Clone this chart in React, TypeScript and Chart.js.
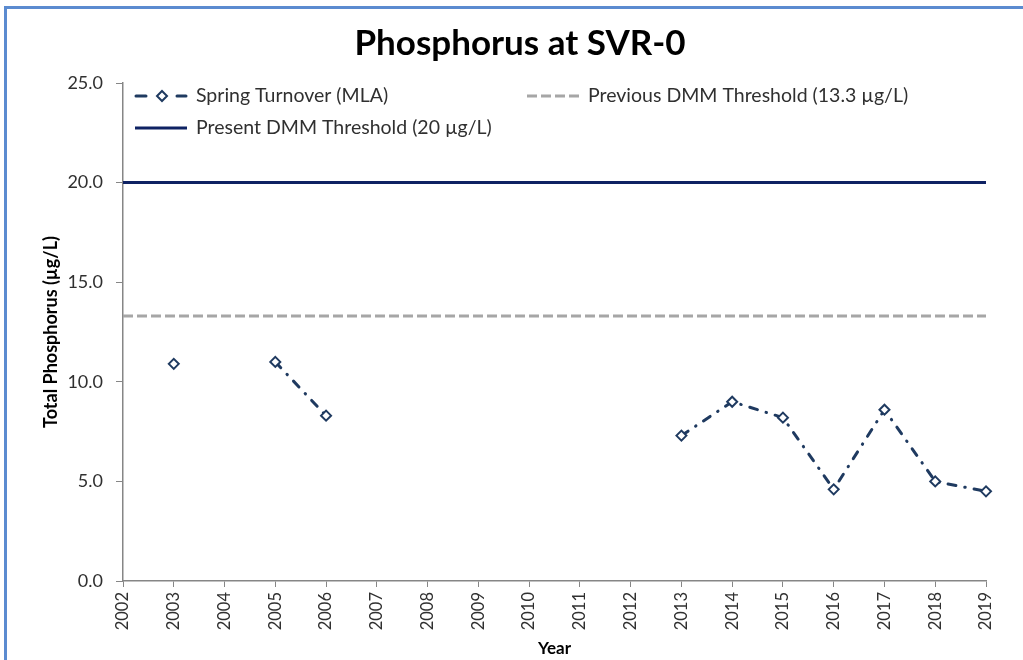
import React, { useEffect, useRef } from 'react';
import { Chart, registerables } from 'chart.js';

Chart.register(...registerables);

const years = ['2002', '2003', '2004', '2005', '2006', '2007', '2008', '2009', '2010', '2011', '2012', '2013', '2014', '2015', '2016', '2017', '2018', '2019'];
const springTurnover: (number | null)[] = [null, 10.9, null, 11.0, 8.3, null, null, null, null, null, null, 7.3, 9.0, 8.2, 4.6, 8.6, 5.0, 4.5];
const previousThreshold = 13.3;
const presentThreshold = 20;
const yTicks = [0, 5, 10, 15, 20, 25];
const seriesNames = ['Spring Turnover (MLA)', 'Previous DMM Threshold (13.3 µg/L)', 'Present DMM Threshold (20 µg/L)'];
const chartTitle = 'Phosphorus at SVR-0';

const SERIES_COLOR = '#1F3A60';
const PREV_COLOR = '#A6A6A6';
const PRESENT_COLOR = '#0E2263';
const AXIS_COLOR = '#868686';
const TEXT_COLOR = '#303030';
const FONT = 'Lato';

const framePlugin = {
  id: 'frame',
  beforeDraw(chart: any) {
    const ctx = chart.ctx;
    ctx.save();
    ctx.fillStyle = '#FFFFFF';
    ctx.fillRect(0, 0, chart.width, chart.height);
    ctx.fillStyle = '#5B8BD0';
    ctx.fillRect(4, 6, chart.width - 4, 3);
    ctx.fillRect(4, 6, 3, chart.height - 6);
    ctx.restore();
  },
};

function drawDiamond(ctx: CanvasRenderingContext2D, x: number, y: number, r: number, color: string) {
  ctx.save();
  ctx.setLineDash([]);
  ctx.beginPath();
  ctx.moveTo(x, y - r);
  ctx.lineTo(x + r, y);
  ctx.lineTo(x, y + r);
  ctx.lineTo(x - r, y);
  ctx.closePath();
  ctx.fillStyle = '#FFFFFF';
  ctx.fill();
  ctx.lineWidth = 2;
  ctx.strokeStyle = color;
  ctx.stroke();
  ctx.restore();
}

const titleLegendPlugin = {
  id: 'excelTitleLegend',
  afterDraw(chart: any) {
    const ctx: CanvasRenderingContext2D = chart.ctx;
    const ca = chart.chartArea;
    ctx.save();
    // title
    ctx.font = `bold 35px ${FONT}`;
    ctx.fillStyle = '#000000';
    ctx.textAlign = 'center';
    ctx.textBaseline = 'middle';
    ctx.fillText(chartTitle, 520, 44);

    // legend
    ctx.font = `19.5px ${FONT}`;
    ctx.textBaseline = 'middle';
    ctx.textAlign = 'left';
    const items = [
      { ds: 0, x: ca.left + 12, y: ca.top + 13 },
      { ds: 1, x: ca.left + 404, y: ca.top + 13 },
      { ds: 2, x: ca.left + 12, y: ca.top + 45 },
    ];
    items.forEach((it) => {
      const ds = chart.data.datasets[it.ds];
      ctx.lineWidth = 3;
      ctx.strokeStyle = ds.borderColor;
      if (it.ds === 0) {
        ctx.setLineDash([]);
        ctx.lineCap = 'round';
        ctx.beginPath();
        ctx.moveTo(it.x + 1, it.y);
        ctx.lineTo(it.x + 11, it.y);
        ctx.moveTo(it.x + 42, it.y);
        ctx.lineTo(it.x + 51, it.y);
        ctx.stroke();
        drawDiamond(ctx, it.x + 27, it.y, 5, ds.borderColor);
      } else {
        ctx.lineCap = 'butt';
        ctx.setLineDash(ds.borderDash || []);
        ctx.beginPath();
        ctx.moveTo(it.x, it.y);
        ctx.lineTo(it.x + 52, it.y);
        ctx.stroke();
      }
      ctx.setLineDash([]);
      ctx.fillStyle = TEXT_COLOR;
      ctx.fillText(ds.label, it.x + 61, it.y);
    });
    ctx.restore();
  },
};

export default function App() {
  const canvasRef = useRef<HTMLCanvasElement | null>(null);

  useEffect(() => {
    if (!canvasRef.current) return;
    Chart.defaults.font.family = FONT;
    const first = years[0];
    const last = years[years.length - 1];
    const chart = new Chart(canvasRef.current, {
      type: 'line',
      data: {
        labels: years,
        datasets: [
          {
            label: seriesNames[0],
            data: springTurnover,
            borderColor: SERIES_COLOR,
            backgroundColor: '#FFFFFF',
            borderWidth: 3,
            borderDash: [8, 9, 0.5, 9],
            borderCapStyle: 'round',
            spanGaps: false,
            tension: 0,
            pointStyle: 'rectRot',
            pointRadius: 5,
            pointBorderWidth: 2,
            pointBackgroundColor: '#FFFFFF',
            pointBorderColor: SERIES_COLOR,
            order: 0,
          },
          {
            label: seriesNames[1],
            data: [{ x: first, y: previousThreshold }, { x: last, y: previousThreshold }] as any,
            borderColor: PREV_COLOR,
            borderWidth: 3,
            borderDash: [10, 4],
            pointRadius: 0,
            order: 1,
          },
          {
            label: seriesNames[2],
            data: [{ x: first, y: presentThreshold }, { x: last, y: presentThreshold }] as any,
            borderColor: PRESENT_COLOR,
            borderWidth: 3,
            pointRadius: 0,
            order: 2,
          },
        ],
      },
      options: {
        animation: false,
        responsive: false,
        maintainAspectRatio: false,
        layout: { padding: { left: 0, right: 37, top: 83, bottom: 0 } },
        plugins: {
          legend: { display: false },
          tooltip: { enabled: false },
          title: { display: false },
        },
        scales: {
          x: {
            type: 'category',
            offset: false,
            grid: { display: true, drawOnChartArea: false, drawTicks: true, tickLength: 6, color: AXIS_COLOR, offset: false },
            border: { display: true, color: AXIS_COLOR, width: 1.5 },
            ticks: { autoSkip: false, maxRotation: 90, minRotation: 90, padding: 5, color: TEXT_COLOR, font: { family: FONT, size: 16.5 } },
            title: { display: true, text: 'Year', color: '#000000', font: { family: FONT, size: 17, weight: 'bold' }, padding: { top: 0, bottom: 1 } },
            afterFit: (s: any) => { s.height = 79; s.paddingLeft = 0; s.paddingRight = 0; },
          },
          y: {
            min: yTicks[0],
            max: yTicks[yTicks.length - 1],
            afterBuildTicks: (s: any) => { s.ticks = yTicks.map((v) => ({ value: v })); },
            grid: { display: true, drawOnChartArea: false, drawTicks: true, tickLength: 7, color: AXIS_COLOR },
            border: { display: true, color: AXIS_COLOR, width: 1.5 },
            ticks: { padding: 13, color: TEXT_COLOR, font: { family: FONT, size: 18 }, callback: (v: any) => Number(v).toFixed(1) },
            title: { display: true, text: 'Total Phosphorus (µg/L)', color: '#000000', font: { family: FONT, size: 18, weight: 'bold' }, padding: { top: 40, bottom: 0 } },
            afterFit: (s: any) => { s.width = 123; s.paddingTop = 0; s.paddingBottom = 0; },
          },
        },
      } as any,
      plugins: [framePlugin, titleLegendPlugin],
    });
    return () => chart.destroy();
  }, []);

  return (
    <div style={{ position: 'fixed', left: 0, top: 0, width: 1023, height: 660, background: '#fff' }}>
      <canvas ref={canvasRef} width={1023} height={660} style={{ display: 'block', width: 1023, height: 660 }} />
    </div>
  );
}
